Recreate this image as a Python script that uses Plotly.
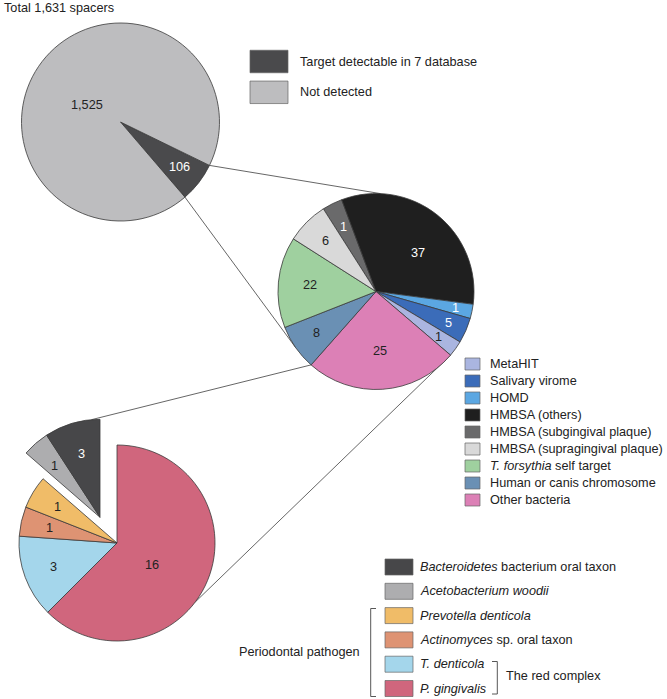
import math
import plotly.graph_objects as go

W, H = 667, 699

# ---------------- data ----------------
title_text = "Total 1,631 spacers"

top_labels = ["Target detectable in 7 database", "Not detected"]
top_counts = [106, 1525]

mid_labels = ["HMBSA (subgingival plaque)", "HMBSA (others)", "HOMD", "Salivary virome",
              "MetaHIT", "Other bacteria", "Human or canis chromosome",
              "T. forsythia self target", "HMBSA (supragingival plaque)"]
mid_counts = [1, 37, 1, 5, 1, 25, 8, 22, 6]
# the figure's slices are not drawn to scale: drawn slice size (degrees)
mid_drawn_deg = [12, 118, 8.5, 15, 9.5, 91, 27, 54, 25]

bot_labels = ["P. gingivalis", "T. denticola", "Actinomyces sp. oral taxon",
              "Prevotella denticola", "Acetobacterium woodii",
              "Bacteroidetes bacterium oral taxon"]
bot_counts = [16, 3, 1, 1, 1, 3]
bot_drawn_deg = [225, 49, 17.5, 19.5, 16, 33]

mid_legend_order = ["MetaHIT", "Salivary virome", "HOMD", "HMBSA (others)",
                    "HMBSA (subgingival plaque)", "HMBSA (supragingival plaque)",
                    "T. forsythia self target", "Human or canis chromosome", "Other bacteria"]
bot_legend_order = ["Bacteroidetes bacterium oral taxon", "Acetobacterium woodii",
                    "Prevotella denticola", "Actinomyces sp. oral taxon",
                    "T. denticola", "P. gingivalis"]
bracket_group_text = "Periodontal pathogen"
red_complex_text = "The red complex"

# ---------------- styles ----------------
colors = {
    "Target detectable in 7 database": "#4a4a4c",
    "Not detected": "#bdbdbf",
    "MetaHIT": "#aab5e0",
    "Salivary virome": "#3b6cb9",
    "HOMD": "#5ba7e2",
    "HMBSA (others)": "#1f1f1f",
    "HMBSA (subgingival plaque)": "#6a6a6b",
    "HMBSA (supragingival plaque)": "#d9d9d9",
    "T. forsythia self target": "#9fd09f",
    "Human or canis chromosome": "#6a90b4",
    "Other bacteria": "#dc80b6",
    "Bacteroidetes bacterium oral taxon": "#474749",
    "Acetobacterium woodii": "#adadaf",
    "Prevotella denticola": "#f0bc68",
    "Actinomyces sp. oral taxon": "#de9373",
    "T. denticola": "#a4d6eb",
    "P. gingivalis": "#d0667d",
}
label_html = {
    "T. forsythia self target": "<i>T. forsythia</i> self target",
    "Bacteroidetes bacterium oral taxon": "<i>Bacteroidetes</i> bacterium oral taxon",
    "Acetobacterium woodii": "<i>Acetobacterium woodii</i>",
    "Prevotella denticola": "<i>Prevotella denticola</i>",
    "Actinomyces sp. oral taxon": "<i>Actinomyces</i> sp. oral taxon",
    "T. denticola": "<i>T. denticola</i>",
    "P. gingivalis": "<i>P. gingivalis</i>",
}
white_text = {"Target detectable in 7 database", "HMBSA (others)", "HMBSA (subgingival plaque)",
              "HOMD", "Salivary virome", "Bacteroidetes bacterium oral taxon"}

FONT = "Liberation Sans, Arial, Helvetica, sans-serif"
FS = 12.7
TXT = "#222222"
EDGE = "#3a3a3a"
LINK = "#555555"

TOP = dict(cx=120.5, cy=122, r=99, rot=116)
MID = dict(cx=376, cy=291.5, r=98, rot=327.5)
BOT = dict(cx=117, cy=543, r=98, rot=0)
BOT_EXPLODE = (-17, -25.7)      # pixel offset of the pulled-out slices
bot_exploded = {"Acetobacterium woodii", "Bacteroidetes bacterium oral taxon"}

top_label_r = [0.75, 0.38]
top_label_t = [0.5, 0.47]
mid_label_r = [0.74, 0.58, 0.83, 0.81, 0.79, 0.61, 0.74, 0.68, 0.73]
mid_label_t = [0.5, 0.58, 0.5, 0.5, 0.5, 0.5, 0.5, 0.5, 0.5]
bot_label_r = [0.42, 0.69, 0.71, 0.71, 0.70, 0.67]
bot_label_t = [0.54, 0.5, 0.5, 0.5, 0.5, 0.5]


def X(px):
    return px / W


def Y(py):
    return 1 - py / H


def pt(c, deg, rr=None, off=(0, 0)):
    rr = c["r"] if rr is None else rr
    a = math.radians(deg)
    return (c["cx"] + off[0] + rr * math.sin(a), c["cy"] + off[1] - rr * math.cos(a))


def domain(c, off=(0, 0)):
    cx, cy, r = c["cx"] + off[0], c["cy"] + off[1], c["r"]
    return dict(x=[X(cx - r), X(cx + r)], y=[Y(cy + r), Y(cy - r)])


def spans(values):
    tot = float(sum(values))
    return [v / tot * 360 for v in values]


fig = go.Figure()
annotations = []
shapes = []


def add_pie(c, labels, values, visible_mask, off=(0, 0)):
    cols = [colors[l] if m else "rgba(0,0,0,0)" for l, m in zip(labels, visible_mask)]
    widths = [0.8 if m else 0 for m in visible_mask]
    fig.add_trace(go.Pie(
        labels=labels, values=values, sort=False, direction="clockwise",
        rotation=c["rot"], domain=domain(c, off), textinfo="none",
        hoverinfo="skip", showlegend=False,
        marker=dict(colors=cols, line=dict(color=EDGE, width=widths)),
    ))


def add_labels(c, labels, counts, values, rfrac, tfrac, off_map=None):
    start = c["rot"]
    for i, (lab, cnt, span) in enumerate(zip(labels, counts, spans(values))):
        off = off_map(lab) if off_map else (0, 0)
        x, y = pt(c, start + span * tfrac[i], c["r"] * rfrac[i], off)
        annotations.append(dict(
            x=X(x), y=Y(y), xref="paper", yref="paper", showarrow=False,
            text=f"{cnt:,}", xanchor="center", yanchor="middle",
            font=dict(family=FONT, size=FS, color="white" if lab in white_text else TXT)))
        start += span


# top pie
add_pie(TOP, top_labels, top_counts, [True, True])
add_labels(TOP, top_labels, top_counts, top_counts, top_label_r, top_label_t)

# middle pie
add_pie(MID, mid_labels, mid_drawn_deg, [True] * len(mid_labels))
add_labels(MID, mid_labels, mid_counts, mid_drawn_deg, mid_label_r, mid_label_t)

# bottom pie (main part + pulled-out slices as a shifted copy)
bmask = [l not in bot_exploded for l in bot_labels]
add_pie(BOT, bot_labels, bot_drawn_deg, bmask)
add_pie(BOT, bot_labels, bot_drawn_deg, [not m for m in bmask], off=BOT_EXPLODE)
add_labels(BOT, bot_labels, bot_counts, bot_drawn_deg, bot_label_r, bot_label_t,
           off_map=lambda l: BOT_EXPLODE if l in bot_exploded else (0, 0))


# ---- connector lines ----
def link(p, q):
    shapes.append(dict(type="line", xref="paper", yref="paper", layer="below",
                       x0=X(p[0]), y0=Y(p[1]), x1=X(q[0]), y1=Y(q[1]),
                       line=dict(color=LINK, width=0.9)))


top_sp = spans(top_counts)
link(pt(TOP, TOP["rot"]), pt(MID, 2.6))
link(pt(TOP, TOP["rot"] + top_sp[0]), pt(MID, 235))

mid_sp = spans(mid_drawn_deg)
pink_i = mid_labels.index("Other bacteria")
pink_start = MID["rot"] + sum(mid_sp[:pink_i])
pink_end = pink_start + mid_sp[pink_i]
link(pt(MID, pink_end), pt(BOT, 355, off=BOT_EXPLODE))
link(pt(MID, pink_start), pt(BOT, 127))

# ---- title ----
annotations.append(dict(x=X(2), y=Y(8), xref="paper", yref="paper", showarrow=False,
                        text=title_text, xanchor="left", yanchor="middle",
                        font=dict(family=FONT, size=FS, color=TXT)))


def legend_row(x0, cy, w, h, label, tx):
    shapes.append(dict(type="rect", xref="paper", yref="paper",
                       x0=X(x0), x1=X(x0 + w), y0=Y(cy + h / 2), y1=Y(cy - h / 2),
                       fillcolor=colors[label], line=dict(color="#666666", width=0.7)))
    annotations.append(dict(x=X(tx), y=Y(cy), xref="paper", yref="paper", showarrow=False,
                            text=label_html.get(label, label), xanchor="left", yanchor="middle",
                            font=dict(family=FONT, size=FS, color=TXT)))


# top legend
for i, lab in enumerate(top_labels):
    legend_row(250, 61.5 + i * 30.8, 38, 22.5, lab, 298)

# middle legend
for i, lab in enumerate(mid_legend_order):
    legend_row(465, 364 + i * 17.0, 15, 12, lab, 487.5)

# bottom legend
for i, lab in enumerate(bot_legend_order):
    legend_row(385, 567 + i * 24.3, 28, 16, lab, 418)


def seg(x0, y0, x1, y1):
    shapes.append(dict(type="line", xref="paper", yref="paper",
                       x0=X(x0), y0=Y(y0), x1=X(x1), y1=Y(y1),
                       line=dict(color="#444444", width=0.9)))


# periodontal pathogen bracket
seg(370.7, 608.5, 370.7, 696.5)
seg(370.7, 608.5, 376, 608.5)
seg(370.7, 696.5, 376, 696.5)
annotations.append(dict(x=X(362), y=Y(652), xref="paper", yref="paper", showarrow=False,
                        text=bracket_group_text, xanchor="right", yanchor="middle",
                        font=dict(family=FONT, size=FS, color=TXT)))

# red complex bracket
seg(497.3, 661.5, 497.3, 694)
seg(492, 661.5, 497.3, 661.5)
seg(492, 694, 497.3, 694)
annotations.append(dict(x=X(504), y=Y(676), xref="paper", yref="paper", showarrow=False,
                        text=red_complex_text, xanchor="left", yanchor="middle",
                        font=dict(family=FONT, size=FS, color=TXT)))

fig.update_layout(
    width=W, height=H, autosize=False,
    margin=dict(l=0, r=0, t=0, b=0),
    paper_bgcolor="white", plot_bgcolor="white",
    showlegend=False,
    annotations=annotations, shapes=shapes,
)

fig.write_html("out.html",
               config={"displayModeBar": False, "staticPlot": True},
               post_script="document.body.style.margin='0';document.body.style.overflow='hidden';")
